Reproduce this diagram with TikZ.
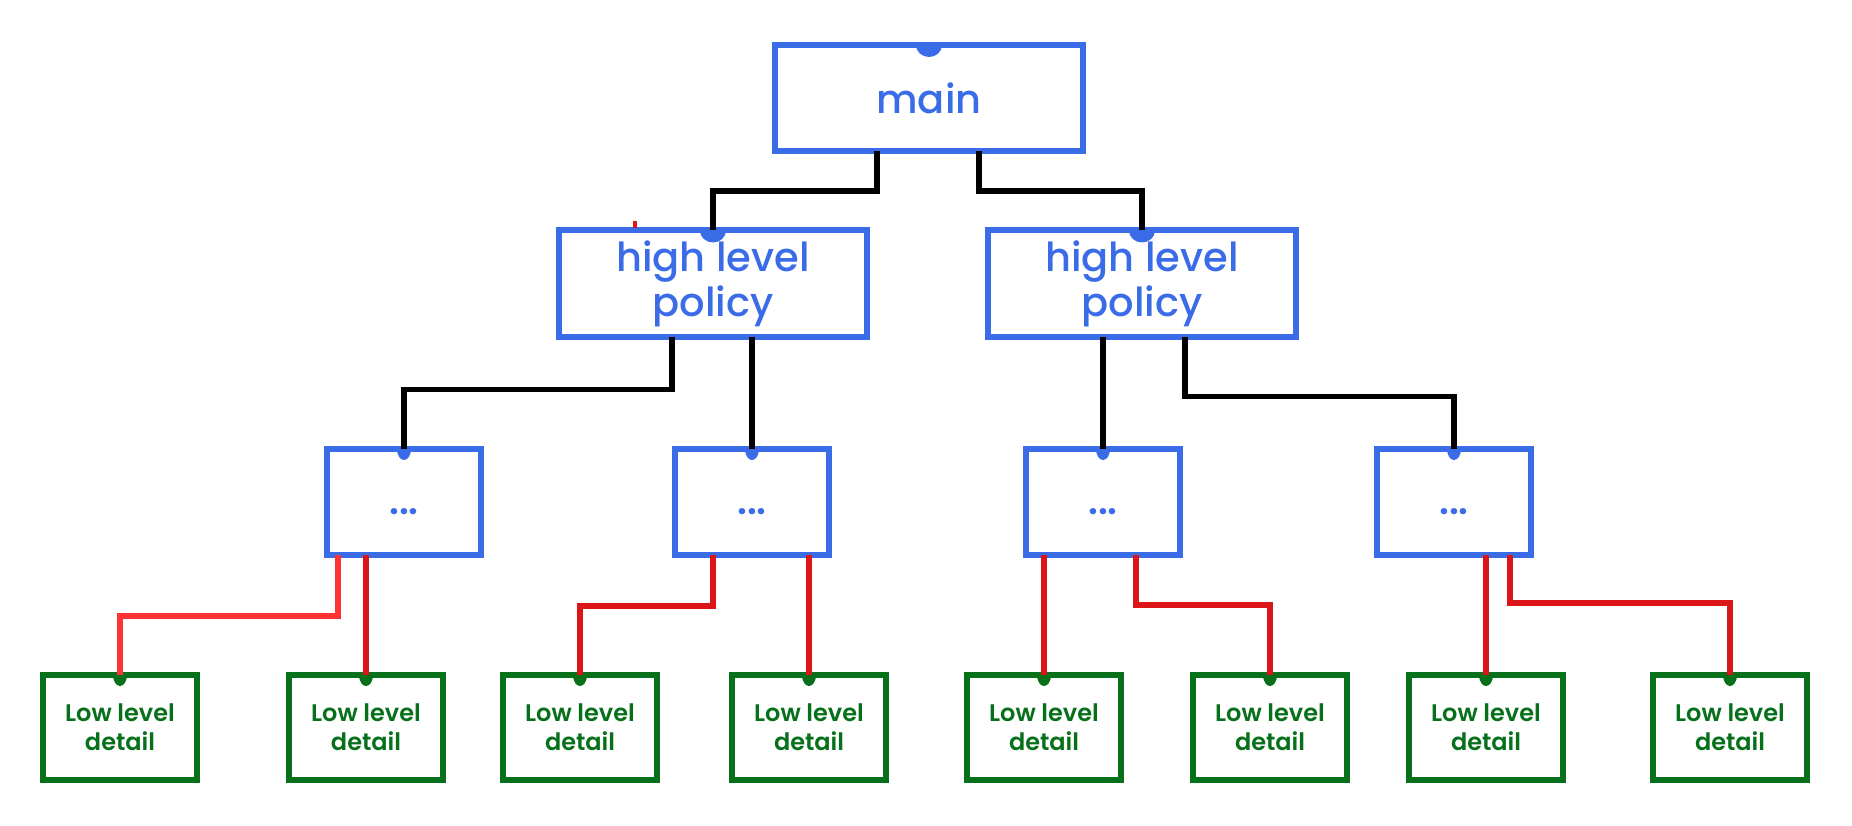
\documentclass[tikz,border=0pt]{standalone}
\usepackage{fontspec}
\setmainfont{Poppins}[UprightFont={* Medium},BoldFont={* SemiBold}]
\definecolor{cblue}{HTML}{3B6CE8}
\definecolor{cgreen}{HTML}{07701A}
\definecolor{cred}{HTML}{DC1518}
\definecolor{clred}{HTML}{FF3333}
\tikzset{
  bluebox/.style={draw=cblue,line width=6pt,fill=white,inner sep=0pt,outer sep=0pt,text=cblue,align=center},
  bigbox/.style={bluebox,minimum width=308pt,minimum height=106pt,font=\fontsize{40}{45}\selectfont},
  midbox/.style={bluebox,minimum width=154pt,minimum height=106pt,text height=24pt,text depth=0pt,font=\bfseries\fontsize{38}{40}\selectfont},
  lowbox/.style={draw=cgreen,line width=6pt,fill=white,inner sep=0pt,outer sep=0pt,text=cgreen,align=center,
    minimum width=154pt,minimum height=105pt,font=\bfseries\fontsize{24}{29}\selectfont},
  blk/.style={draw=black,line width=5.2pt},
  rd/.style={draw=cred,line width=5.2pt},
  lrd/.style={draw=clred,line width=5.2pt},
}
\newcommand\tdot[4]{\fill[#2] ([xshift=-#3pt]#1.north) arc[start angle=180,end angle=0,x radius=#3,y radius=#4];}
\begin{document}
\begin{tikzpicture}[x=1pt,y=-1pt]
\useasboundingbox (0,0) rectangle (1852,826);
\node[bigbox] (main) at (929,98) {main};
\node[bigbox] (hlpL) at (713,283.5) {high level\\policy};
\node[bigbox] (hlpR) at (1142,283.5) {high level\\policy};
\node[midbox] (a) at (404,502) {...};
\node[midbox] (b) at (752,502) {...};
\node[midbox] (c) at (1103,502) {...};
\node[midbox] (d) at (1454,502) {...};
\foreach \n/\x in {l1/120,l2/366,l3/580,l4/809,l5/1044,l6/1270,l7/1486,l8/1730}
  \node[lowbox] (\n) at (\x,727.5) {Low level\\detail};
% black
\draw[blk] ([xshift=-52pt]main.south) -- ++(0,40) -| (hlpL.north);
\draw[blk] ([xshift=50pt]main.south) -- ++(0,40) -| (hlpR.north);
\draw[blk] ([xshift=-41pt]hlpL.south) -- ++(0,53) -| (a.north);
\draw[blk] (hlpL.south -| b.north) -- (b.north);
\draw[blk] (hlpR.south -| c.north) -- (c.north);
\draw[blk] ([xshift=43pt]hlpR.south) -- ++(0,60) -| (d.north);
% red
\draw[lrd] ([xshift=-66pt]a.south) -- ++(0,61) -| (l1.north);
\draw[rd] (a.south -| l2.north) -- (l2.north);
\draw[rd] ([xshift=-39pt]b.south) -- ++(0,51) -| (l3.north);
\draw[rd] (b.south -| l4.north) -- (l4.north);
\draw[rd] (c.south -| l5.north) -- (l5.north);
\draw[rd] ([xshift=33pt]c.south) -- ++(0,50) -| (l6.north);
\draw[rd] (d.south -| l7.north) -- (l7.north);
\draw[rd] ([xshift=56pt]d.south) -- ++(0,48) -| (l8.north);
\draw[rd,line width=4pt] (635,221) -- (635,228);
% dots
\tdot{main}{cblue}{13}{12}
\tdot{hlpL}{cblue}{13}{12}
\tdot{hlpR}{cblue}{13}{12}
\foreach \n in {a,b,c,d} {\tdot{\n}{cblue}{7}{11}}
\foreach \n in {l1,l2,l3,l4,l5,l6,l7,l8} {\tdot{\n}{cgreen}{7}{11}}
\end{tikzpicture}
\end{document}
